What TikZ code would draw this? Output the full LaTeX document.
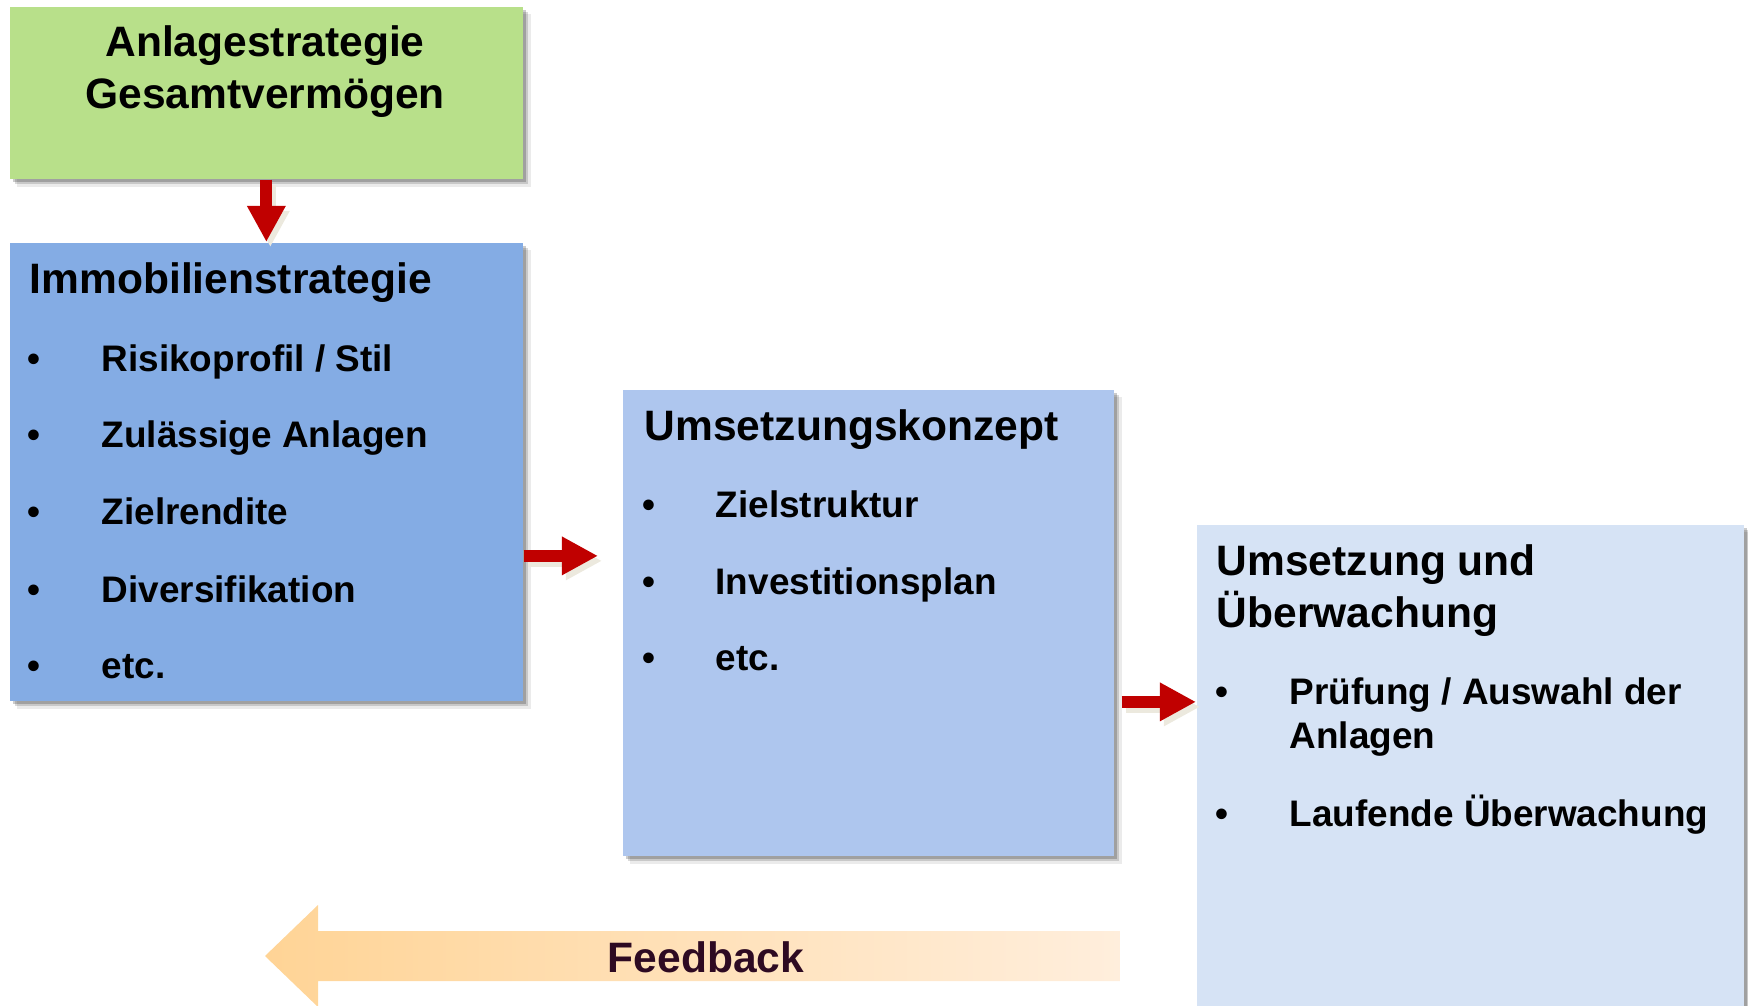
\documentclass[tikz,border=0pt]{standalone}
\usepackage{fontspec}
\setmainfont{Liberation Sans}
\usetikzlibrary{arrows.meta,shadows}
\definecolor{anlagegreen}{HTML}{B8E08A}
\definecolor{immoblue}{HTML}{84ACE4}
\definecolor{konzeptblue}{HTML}{AEC6EE}
\definecolor{ueberwblue}{HTML}{D6E3F5}
\definecolor{arrowred}{HTML}{C00000}
\definecolor{arrowbeige}{HTML}{ECE9DE}
\definecolor{fbleft}{HTML}{FFD496}
\definecolor{fbright}{HTML}{FFEEDC}
\definecolor{fbtext}{HTML}{2E0A22}
\tikzset{
	boxshadow/.style={
		drop shadow={shadow xshift=0.8pt, shadow yshift=-0.8pt, opacity=.2, fill=black},
		drop shadow={shadow xshift=1.5pt, shadow yshift=-1.5pt, opacity=.15, fill=black},
		drop shadow={shadow xshift=2.2pt, shadow yshift=-2.2pt, opacity=.08, fill=black}},
	box/.style={fill=#1, inner sep=0pt, anchor=north west, boxshadow},
	heading/.style={anchor=base west, inner sep=0pt, font=\fontsize{12.1}{15}\selectfont\bfseries},
	entry/.style={anchor=base west, inner sep=0pt, font=\fontsize{10.5}{12.5}\selectfont\bfseries},
	bulletmark/.style={anchor=base, inner sep=0pt, font=\fontsize{10.5}{12.5}\selectfont\bfseries},
	redarrow/.style={draw=arrowred, line width=0.12cm, -{Triangle[length=0.36cm,width=0.36cm]}},
	arrowshade/.style={draw=arrowbeige, transform canvas={shift={(4,5)}}}
}
\begin{document}
\begin{tikzpicture}[x=0.01cm, y=-0.01cm]
		\clip (0,0) rectangle (1748,1006);
		\node[box=anlagegreen, minimum width=5.13cm, minimum height=1.72cm] (anlage) at (9,6) {};
		\node[box=immoblue, minimum width=5.13cm, minimum height=4.58cm] (immo) at (9,242) {};
		\node[box=konzeptblue, minimum width=4.91cm, minimum height=4.66cm] (konzept) at (622,389) {};
		\node[box=ueberwblue, minimum width=5.47cm, minimum height=5.2cm] (ueberw) at (1196,524) {};
		\node[heading, anchor=base] (anlage-1) at (265,57) {Anlagestrategie};
		\node[heading, anchor=base] (anlage-2) at (265,108) {Gesamtvermögen};
		\node[heading] (immo-title) at (29,293) {Immobilienstrategie};
		\node[bulletmark] (immo-b1) at (34,371) {•};
		\node[entry] (immo-1) at (101,371) {Risikoprofil / Stil};
		\node[bulletmark] (immo-b2) at (34,447) {•};
		\node[entry] (immo-2) at (101,447) {Zulässige Anlagen};
		\node[bulletmark] (immo-b3) at (34,524) {•};
		\node[entry] (immo-3) at (101,524) {Zielrendite};
		\node[bulletmark] (immo-b4) at (34,602) {•};
		\node[entry] (immo-4) at (101,602) {Diversifikation};
		\node[bulletmark] (immo-b5) at (34,678) {•};
		\node[entry] (immo-5) at (101,678) {etc.};
		\node[heading] (konzept-title) at (644,440) {Umsetzungskonzept};
		\node[bulletmark] (konzept-b1) at (649,517) {•};
		\node[entry] (konzept-1) at (715,517) {Zielstruktur};
		\node[bulletmark] (konzept-b2) at (649,594) {•};
		\node[entry] (konzept-2) at (715,594) {Investitionsplan};
		\node[bulletmark] (konzept-b3) at (649,670) {•};
		\node[entry] (konzept-3) at (715,670) {etc.};
		\node[heading] (ueberw-title1) at (1216,575) {Umsetzung und};
		\node[heading] (ueberw-title2) at (1216,627) {Überwachung};
		\node[bulletmark] (ueberw-b1) at (1222,704) {•};
		\node[entry] (ueberw-1a) at (1289,704) {Prüfung / Auswahl der};
		\node[entry] (ueberw-1b) at (1289,748) {Anlagen};
		\node[bulletmark] (ueberw-b2) at (1222,826) {•};
		\node[entry] (ueberw-2) at (1289,826) {Laufende Überwachung};
		\coordinate (a1) at ([yshift=-0.84cm]immo.east);
		\coordinate (a2) at ([xshift=0.07cm, yshift=-0.79cm]konzept.east);
		\draw[redarrow, arrowshade] (anlage.south) -- (immo.north);
		\draw[redarrow] (anlage.south) -- (immo.north);
		\draw[redarrow, arrowshade] (a1) -- ([xshift=-0.24cm]konzept.west |- a1);
		\draw[redarrow] (a1) -- ([xshift=-0.24cm]konzept.west |- a1);
		\draw[redarrow, arrowshade] (a2) -- (ueberw.west |- a2);
		\draw[redarrow] (a2) -- (ueberw.west |- a2);
		\shade[left color=fbleft, right color=fbright] (1120,931) -- (318,931) -- (318,905) -- (265,956) -- (318,1007) -- (318,981) -- (1120,981) -- cycle;
		\node[font=\fontsize{12.1}{15}\selectfont\bfseries, text=fbtext, inner sep=0pt] (fb) at (706,957) {Feedback};
		\end{tikzpicture}
\end{document}
